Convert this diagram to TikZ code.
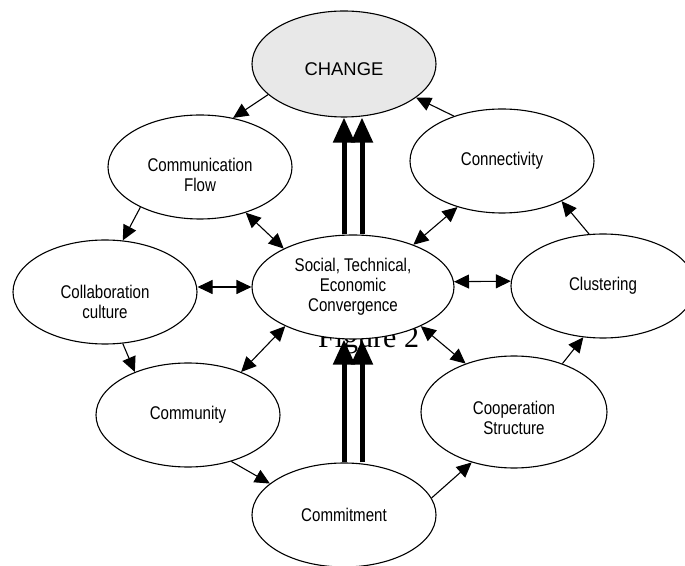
\documentclass[tikz,border=0pt]{standalone}
\usepackage{fontspec}
\newfontfamily\narrowsf{Liberation Sans}[FakeStretch=0.82]
\newfontfamily\plainsf{Liberation Sans}
\newfontfamily\figserif{Liberation Serif}
\usepackage{tikz}
\usetikzlibrary{arrows.meta,shapes,calc}
\definecolor{chgfill}{RGB}{232,232,232}
\tikzset{
	bubble/.style={draw=black,line width=1.1pt,fill=white,ellipse,inner sep=0pt,minimum width=184pt,minimum height=104pt,align=center,font=\narrowsf\fontsize{18.4pt}{20pt}\selectfont},
	link/.style={draw=black,line width=1.1pt,>={Triangle[length=15pt,width=14pt]}},
	push/.style={draw=black,line width=5pt,->,>={Triangle[length=25pt,width=21pt]}}
}

\begin{document}
\begin{tikzpicture}[scale=1]
	\useasboundingbox (0pt,0pt) rectangle (685pt,565pt);
	
	\node[anchor=base west,inner sep=0pt,font=\figserif\fontsize{30pt}{30pt}\selectfont] (fig) at (318pt,217pt){Figure 2};
	
	\node[bubble,fill=chgfill,minimum height=106pt,font=\plainsf\fontsize{18.4pt}{20pt}\selectfont] (chg) at (344pt,501pt){\rule{0pt}{23pt}CHANGE};
	\node[bubble] (flow) at (200pt,398pt){\rule{0pt}{29pt}Communication\\Flow};
	\node[bubble] (conn) at (502pt,404pt){Connectivity};
	\node[bubble,minimum width=202pt] (conv) at (353pt,278pt){Social, Technical,\\Economic\\Convergence};
	\node[bubble] (collab) at (105pt,273pt){\rule{0pt}{33pt}Collaboration\\culture};
	\node[bubble] (clus) at (603pt,279pt){Clustering};
	\node[bubble] (commu) at (188pt,150pt){Community};
	\node[bubble,minimum width=186pt,minimum height=112pt] (coop) at (514pt,153pt){\rule{0pt}{25pt}Cooperation\\Structure};
	\node[bubble] (commit) at (344pt,50pt){Commitment};

	\draw[link,->] (chg.202) -- (flow.56);
	\draw[link,->] (conn.137) -- (chg.335);
	\draw[link,<->] (flow.315) -- (conv.151);
	\draw[link,<->] (conn.226) -- (conv.35);
	\draw[link,<->] (collab.east |- conv.west) -- (conv.west);
	\draw[link,<->] (conv.3) -- (clus.177);
	\draw[link,->] (flow.214) -- (collab.71);
	\draw[link,->] (collab.289) -- (commu.141);
	\draw[link,<->] (conv.210) -- (commu.39);
	\draw[link,<->] (conv.330) -- (coop.135);
	\draw[link,->] (commu.313) -- (commit.157);
	\draw[link,->] (commit.11) -- (coop.230);
	\draw[link,->] (coop.45) -- (clus.249);
	\draw[link,->] (clus.105) -- (conn.326);
	
	\draw[push] ([xshift=-9pt]conv.north) -- ([xshift=-9pt]conv.north |- chg.south);
	\draw[push] ([xshift=9pt]conv.north) -- ([xshift=9pt]conv.north |- chg.south);
	\draw[push] ([xshift=-9pt]conv.south |- commit.north) -- ([xshift=-9pt]conv.south);
	\draw[push] ([xshift=9pt]conv.south |- commit.north) -- ([xshift=9pt]conv.south);
\end{tikzpicture}
\end{document}
